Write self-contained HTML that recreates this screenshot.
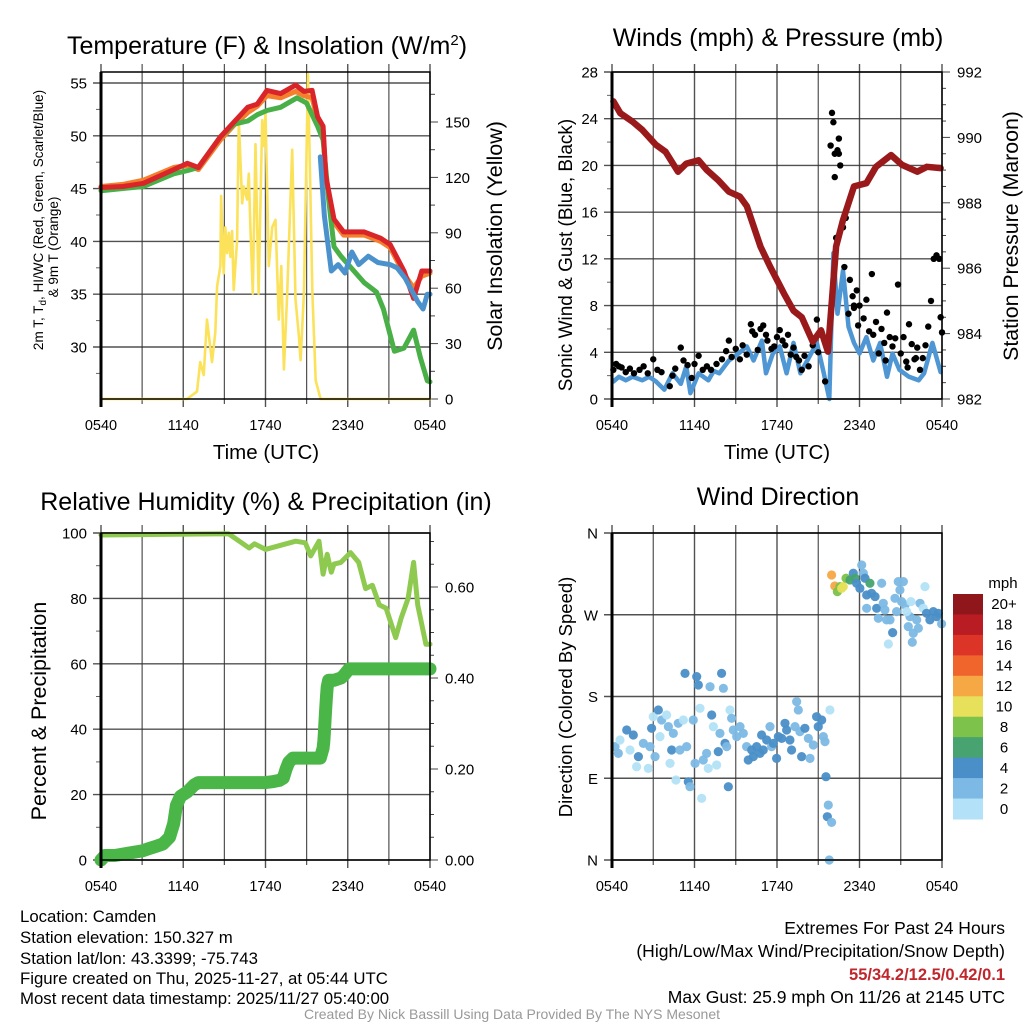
<!DOCTYPE html>
<html><head><meta charset="utf-8"><style>
html,body{margin:0;padding:0;background:#fff;}
svg{display:block;font-family:"Liberation Sans",Arial,sans-serif;}
</style></head><body>
<svg id="fig" width="1024" height="1024" viewBox="0 0 1024 1024">
<rect x="0" y="0" width="1024" height="1024" fill="#fff"/>
<g id="p1"></g>
<g id="p2"></g>
<g id="p3"></g>
<g id="p4"></g>
<text x="267" y="54" font-size="25" text-anchor="middle">Temperature (F) &amp; Insolation (W/m<tspan dy="-9" font-size="15">2</tspan><tspan dy="9">)</tspan></text>
<text x="778" y="46" font-size="25" text-anchor="middle">Winds (mph) &amp; Pressure (mb)</text>
<text x="266" y="510" font-size="25" text-anchor="middle">Relative Humidity (%) &amp; Precipitation (in)</text>
<text x="778" y="505" font-size="25" text-anchor="middle">Wind Direction</text>
<text transform="translate(43,220) rotate(-90)" font-size="13.5" text-anchor="middle">2m T, T<tspan dy="3" font-size="10">d</tspan><tspan dy="-3">, HI/WC (Red, Green, Scarlet/Blue)</tspan></text>
<text transform="translate(58,247) rotate(-90)" font-size="13.5" text-anchor="middle">&amp; 9m T (Orange)</text>
<text transform="translate(502,236) rotate(-90)" font-size="21.5" text-anchor="middle">Solar Insolation (Yellow)</text>
<text transform="translate(572,255) rotate(-90)" font-size="19" text-anchor="middle">Sonic Wind &amp; Gust (Blue, Black)</text>
<text transform="translate(1018,236) rotate(-90)" font-size="21.3" text-anchor="middle">Station Pressure (Maroon)</text>
<text transform="translate(46,711) rotate(-90)" font-size="21.5" text-anchor="middle">Percent &amp; Precipitation</text>
<text transform="translate(572,697) rotate(-90)" font-size="18.5" text-anchor="middle">Direction (Colored By Speed)</text>
<text x="266" y="459" font-size="20.5" text-anchor="middle">Time (UTC)</text>
<text x="777" y="459" font-size="20.5" text-anchor="middle">Time (UTC)</text>
<g id="cbar"></g>
<g font-size="16.8">
<text x="20" y="922">Location: Camden</text>
<text x="20" y="943">Station elevation: 150.327 m</text>
<text x="20" y="964">Station lat/lon: 43.3399; -75.743</text>
<text x="20" y="984">Figure created on Thu, 2025-11-27, at 05:44 UTC</text>
<text x="20" y="1004">Most recent data timestamp: 2025/11/27 05:40:00</text>
</g>
<g font-size="17.5" text-anchor="end">
<text x="1005" y="934">Extremes For Past 24 Hours</text>
<text x="1005" y="957">(High/Low/Max Wind/Precipitation/Snow Depth)</text>
<text x="1005" y="980" fill="#c0272d" font-weight="bold" font-size="16.5">55/34.2/12.5/0.42/0.1</text>
<text x="1005" y="1003">Max Gust: 25.9 mph On 11/26 at 2145 UTC</text>
</g>
<text x="512" y="1019" font-size="14" fill="#999" text-anchor="middle">Created By Nick Bassill Using Data Provided By The NYS Mesonet</text>
</svg>
<script>
// ---------- data ----------
const xTickLabels = ["0540","1140","1740","2340","0540"];
const tempTicks = [30,35,40,45,50,55];
const solarTicks = [0,30,60,90,120,150];
const windTicks = [0,4,8,12,16,20,24,28];
const presTicks = [982,984,986,988,990,992];
const rhTicks = [0,20,40,60,80,100];
const precipTicks = [0.00,0.20,0.40,0.60];
const dirTicks = [0,90,180,270,360];
const dirLabels = ["N","E","S","W","N"];
const speedBins = ["0","2","4","6","8","10","12","14","16","18","20+"];
const speedColors = ["#b3e1f7","#7cb9e4","#4a8fc7","#47a36f","#7cc24b","#e6e05a","#f6a845","#f0652b","#dc3427","#ba1c24","#8f161b"];

const redT = [0,1.6,3.1,5.3,6.3,7.1,8.7,9.7,10.7,11.4,12.1,13.1,14.2,14.8,15.4,15.8,16.2,16.4,17,17.7,19.2,20.4,21.1,22.1,22.8,23.4,24];
const redV = [45.1,45.2,45.5,46.8,47.4,47,49.9,51.3,52.7,53,54.3,54,54.8,54.2,54.3,51.8,50.9,46.2,42.1,40.9,40.9,40.3,39.7,37.2,34.6,37.2,37.2];
const orangeV = [45.2,45.4,45.8,47,47.2,46.8,49.6,51,52.2,52.8,53.8,53.6,54.2,53.8,53.6,51.5,50.5,46,41.8,40.6,40.6,40,39.4,36.9,35.6,36.7,37];
const greenT = [0,3.1,5.3,6.3,7.1,8.7,9.7,10.7,11.4,12.1,13.1,14.3,15,15.8,16.2,16.6,17,17.5,19.2,20.1,20.6,21.4,22.1,22.8,23.3,23.8,24];
const greenV = [44.8,45.2,46.4,46.7,47,49.9,51.1,51.4,52,52.4,52.7,53.6,53.1,50.9,49.6,44,39.5,38.6,36.1,35.2,33.6,29.6,29.9,31.6,29,26.8,26.7];
const blueT = [16,16.3,16.8,17.3,17.8,18.3,18.8,19.5,20.2,21.1,21.6,22.2,23.1,23.5,23.8,24];
const blueV = [48,42.4,37.2,37.8,37,39,37.8,38.6,38,37.8,37.5,36.5,34.3,33.6,35,35];
const solarT = [0,6.27,7.0,7.24,7.49,7.73,8.1,8.34,8.47,8.71,8.76,8.95,9.07,9.2,9.32,9.44,9.56,9.68,9.93,10.05,10.3,10.41,10.66,10.78,10.9,11.07,11.27,11.5,11.76,11.88,12.0,12.24,12.49,12.73,12.97,13.15,13.34,13.58,13.95,14.19,14.44,14.56,14.8,15.1,15.42,15.66,16.02,24];
const solarV = [0,0,4,20,13,43,20,36,61,72,110,68,93,79,90,77,91,59,86,151,106,115,108,122,93,57,138,57,151,137,155,72,93,97,43,72,16,57,135,54,34,21,57,176,57,10,0,0];

const presT = [0.1,0.6,1.5,2.2,3.2,3.9,4.8,5.4,6.3,6.9,7.7,8.5,9.3,9.8,10.8,11.5,12.5,13.2,13.8,14.6,15.2,15.7,16.3,16.8,17.6,18.5,19.2,20.3,21.1,22.2,22.9,23.9];
const presV = [991.1,990.74,990.48,990.23,989.77,989.56,988.95,989.2,989.3,989.0,988.7,988.34,988.19,987.9,986.66,986.05,985.23,984.7,984.5,983.75,984.1,983.45,986.66,987.47,988.5,988.6,989.1,989.46,989.16,988.95,989.1,989.06];
const windT = [0.1,0.5,1.0,1.5,2.2,2.7,3.2,3.8,4.4,5.0,5.4,5.7,6.3,7.0,7.4,7.8,8.5,9.2,9.8,10.3,10.9,11.2,11.7,12.2,12.7,13.2,13.7,14.2,14.9,15.4,15.8,16.1,16.4,16.8,17.2,17.6,18.0,18.5,19.0,19.5,20.0,20.4,20.9,21.6,22.3,22.7,23.3,23.9];
const windV = [1.5,1.9,1.6,1.9,1.6,1.9,1.5,0.8,2.2,1.3,2.8,0.5,2.2,1.6,2.4,2.2,3.3,3.9,4.5,3.3,5.0,2.2,3.9,4.5,2.2,4.8,2.2,3.3,4.8,2.2,0,12.5,7.3,11,6.2,4.8,3.9,5.3,3.3,4.8,1.9,3.9,2.5,1.9,1.6,2.2,4.8,2.3];
const gustT = [0.1,0.3,0.5,0.7,1,1.3,1.6,2,2.3,2.6,3,3.3,3.6,4.2,4.4,4.6,5,5.2,5.5,5.8,6.0,6.3,6.6,6.9,7.2,7.6,8.0,8.3,8.5,8.7,9.0,9.3,9.5,9.8,10.1,10.2,10.4,10.6,10.8,11.0,11.2,11.3,11.6,11.8,12.0,12.2,12.4,12.6,12.8,13.0,13.2,13.4,13.6,13.8,14.0,14.3,14.6,14.9,15.0,15.2,15.5,15.9,16.0,16.1,16.2,16.2,16.4,16.5,16.5,16.3,16.6,16.8,16.9,17.0,17.2,17.3,17.5,17.6,17.8,17.9,18.0,18.3,18.5,18.7,18.9,19.0,19.2,19.4,19.6,19.8,20.0,20.2,20.4,20.6,20.8,21.0,21.2,21.4,21.6,21.8,22.0,22.2,22.4,22.6,22.8,23.0,23.2,23.4,23.6,23.8,23.9,24,17.6,19.9,21.5,22.1];
const gustV = [2.5,3,2.8,2.7,2.3,2.6,2.2,2.5,2.8,2.2,3.4,2.5,2.3,1.1,2.0,2.6,4.4,3.3,2.9,1.8,3.0,3.7,2.5,2.8,2.5,3.0,3.4,4.1,5.0,3.6,4.3,3.4,4.6,3.8,6.4,5.8,5.5,4.2,6.0,6.3,5.5,5.0,4.3,4.5,5.3,5.9,5.0,4.6,5.5,3.8,4.4,3.6,3.3,2.5,3.7,2.8,4.6,6.8,4.0,5.5,1.5,21.7,24.5,23.7,21.0,19.0,21.3,22.3,21.0,13.8,20.0,14.7,11.3,15.5,7.3,10.2,8.8,8.0,9.3,6.3,8.0,6.9,8.5,5.8,10.7,5.5,6.6,3.9,6.0,4.8,7.4,5.3,4.5,5.2,9.8,3.9,5.3,3.2,6.4,4.7,3.4,4.4,2.5,3.5,4.6,6.2,8.4,12.0,12.3,12.0,7.0,5.7,7.8,3.3,2.7,3.5];

const rhT = [0,9.3,10.8,11.2,12.0,14.2,14.9,15.3,15.9,16.2,16.5,16.8,17,17.5,18.2,18.8,19.3,19.8,20.3,20.8,21.5,21.9,22.4,22.8,23.1,23.7,24];
const rhV = [99.4,99.8,95.4,96.7,95,97.5,97,93,97.5,87.4,93.5,88,90.5,91,94,91,83,84,78,77,68,74,80,91,78,66,66];
const precipT = [0,0.3,1,2,3,3.5,4,4.5,5,5.3,5.5,5.8,6.3,6.8,7.1,8,9,10,11,12,12.5,13,13.3,13.5,13.7,14,15,16,16.2,16.25,16.3,16.35,16.4,16.45,16.5,16.6,17,17.5,17.7,18.1,19,20,21,22,23,24];
const precipV = [0.0,0.01,0.01,0.015,0.02,0.025,0.03,0.035,0.05,0.08,0.12,0.14,0.15,0.165,0.17,0.17,0.17,0.17,0.17,0.17,0.172,0.175,0.18,0.2,0.215,0.224,0.224,0.224,0.246,0.26,0.28,0.31,0.336,0.36,0.38,0.395,0.395,0.4,0.405,0.42,0.42,0.42,0.42,0.42,0.42,0.42];

const dirT = [0.22,0.46,0.58,1.07,1.31,1.55,1.79,1.92,2.28,2.64,2.76,2.88,3.0,3.13,3.37,3.49,3.61,3.97,4.1,4.22,4.34,4.46,4.65,4.82,4.94,5.19,5.31,5.43,5.55,5.67,5.91,6.04,6.16,6.28,6.4,6.52,6.64,6.88,7.0,7.13,7.25,7.37,7.61,7.73,7.85,7.97,8.1,8.22,8.34,8.46,8.58,8.7,8.82,9.07,9.31,9.55,9.79,9.91,10.16,10.28,10.52,10.76,10.88,11.0,11.25,11.49,11.61,11.73,11.97,12.1,12.34,12.58,12.7,12.94,13.06,13.31,13.43,13.55,13.67,13.79,14.03,14.28,14.4,14.64,14.88,15.0,15.25,15.37,15.49,15.85,15.56,15.73,15.66,15.97,15.8,
 15.97,16.2,16.39,16.58,16.7,16.82,17.02,17.31,17.55,17.67,17.79,18.03,18.16,18.28,18.4,18.76,18.52,18.88,19.13,18.52,19.25,19.61,19.73,19.85,19.37,19.97,20.22,20.41,20.1,20.58,20.7,20.82,20.94,21.19,21.06,21.31,21.55,21.67,21.74,21.91,21.84,22.16,22.28,22.4,22.64,22.76,22.88,23.12,23.37,23.61,23.73,23.97,21.43];
const dirV = [124.8,117.4,132.1,143.1,121.1,137.6,102.7,113.8,128.4,100.9,124.8,145,157.8,113.8,165.2,135.8,154.1,159.6,146.8,106.4,121.1,139.4,88.1,150.5,121.1,154.1,205.5,124.8,86.2,80.7,154.1,106.4,201.9,192.7,167,67.9,110.1,117.4,100.9,190.8,159.6,146.8,104.6,119.3,139.4,205.5,189,128.4,124.8,80.7,165.2,156,143.1,135.8,146.8,139.4,124.8,110.1,121.1,113.8,124.8,117.4,137.6,121.1,132.1,146.8,124.8,128.4,111.9,135.8,133.9,150.5,143.1,132.1,121.1,146.8,174.3,165.2,141.3,113.8,145,133.9,111.9,126.6,157.8,146.8,154.1,135.8,130.3,165.2,91.7,60.5,47.7,41.4,0,
 313.8,301.7,295.5,301,299.1,301,310.2,308.3,315.7,310.2,304.7,299.1,324.8,315.7,310.2,304.7,291.8,293.6,290,277.1,277.1,304.7,282.6,275.3,266.1,264.3,264.3,250.3,237.8,288.1,273.4,306.5,297.3,306.5,284.5,280.8,256.9,267.9,284.5,249.6,239.7,264.3,255.1,282.6,277.1,301,271.6,264.3,273.4,267.9,271.6,259.9,273.4];
const dirS = [3,3,1,5,1,5,1,5,3,1,3,5,1,3,5,1,3,1,3,1,5,3,1,3,3,1,5,3,5,3,3,3,5,5,1,1,3,3,1,3,5,1,1,5,3,5,3,5,3,5,1,3,3,3,3,3,3,5,5,5,5,5,5,5,5,3,3,5,5,5,5,5,5,5,5,3,3,3,3,5,5,3,3,3,5,5,5,3,3,1,5,3,5,3,3,
 13,13,9,9,11,11,9,7,5,7,5,5,3,3,5,7,5,5,5,3,5,3,3,3,3,3,3,5,1,3,3,3,3,3,3,3,3,3,1,3,3,3,3,3,1,1,5,5,5,5,5,3,1];

// ---------- helpers ----------
const NS = "http://www.w3.org/2000/svg";
function mk(parent, tag, attrs){ const e=document.createElementNS(NS,tag); for(const k in attrs) e.setAttribute(k,attrs[k]); parent.appendChild(e); return e; }
function linScale(d0,d1,r0,r1){ return v => r0 + (v-d0)*(r1-r0)/(d1-d0); }
function frame(g, x0,x1,y0,y1, xs){
  for(let h=0;h<=24;h+=3){
    const x=xs(h);
    const l=mk(g,'line',{x1:x,x2:x,y1:y0-8,y2:y1+ (h%6===0?8:5),stroke:'#333','stroke-width':h%6===0?1.4:1.2,'stroke-opacity':0.85});
    
    
  }
  xTickLabels.forEach((s,i)=>{
    const t=mk(g,'text',{x:xs(i*6),y:y1+31,'font-size':14.5,'text-anchor':'middle'}); t.textContent=s;
    
    
  });
}
function hgrid(g,x0,x1,y,label,lx){
  const l=mk(g,'line',{x1:x0-8,x2:x1,y1:y,y2:y,stroke:'#333','stroke-width':1.4,'stroke-opacity':0.85});
  
  
  if(label!==null){
    const t=mk(g,'text',{x:lx,y:y+5.5,'font-size':15,'text-anchor':'end'}); t.textContent=label;
    
    
  }
}
function rtick(g,x1,y,len,label){
  mk(g,'line',{x1:x1,x2:x1+len,y1:y,y2:y,stroke:'#444','stroke-width':1});
  if(label!==null){
    const t=mk(g,'text',{x:x1+15,y:y+5.5,'font-size':15}); t.textContent=label;
    
    
  }
}
function ltick(g,x0,y){ mk(g,'line',{x1:x0-5,x2:x0,y1:y,y2:y,stroke:'#666','stroke-width':1}); }
function border(g,x0,x1,y0,y1){
  const r=mk(g,'rect',{x:x0,y:y0,width:x1-x0,height:y1-y0,fill:'none',stroke:'#000','stroke-width':1.5});
  
  
  mk(g,'line',{x1:x0,x2:x0,y1:y0,y2:y1+8,stroke:'#000','stroke-width':3});
}
function path(g,xs,ys,T,V,color,w,name){
  let d=''; T.forEach((t,i)=>{ d+=(i?'L':'M')+xs(t).toFixed(1)+','+ys(V[i]).toFixed(1); });
  const p=mk(g,'path',{d:d,fill:'none',stroke:color,'stroke-width':w,'stroke-linejoin':'round','stroke-linecap':'round'});
  
  
  return p;
}
function dots(g,xs,ys,T,V,color,r,name){
  T.forEach((t,i)=>{
    const c=mk(g,'circle',{cx:xs(t),cy:ys(V[i]),r:r,fill:color});
    
    
  });
}

// ---------- panel 1 ----------
(function(){
  const g=document.getElementById('p1');
  const x0=101,x1=430,y0=72,y1=399;
  const xs=linScale(0,24,x0,x1), ys=linScale(55,30,83,347), ss=linScale(0,150,399,122);
  frame(g,x0,x1,y0,y1,xs);
  tempTicks.forEach(v=>hgrid(g,x0,x1,ys(v),String(v),87));
  for(let v=27.5;v<=55;v+=5) ltick(g,x0,ys(v));
  solarTicks.forEach(v=>rtick(g,x1,ss(v),8,String(v)));
  for(let v=15;v<=165;v+=30) rtick(g,x1,ss(v),5,null);
  path(g,xs,ss,solarT,solarV,'#fbe25a',2.6,'solar-insolation-line');
  path(g,xs,ys,redT,orangeV,'#f47f2c',5,'9m-temperature-line');
  path(g,xs,ys,greenT,greenV,'#49b048',5,'dewpoint-line');
  path(g,xs,ys,redT,redV,'#d9242a',5,'2m-temperature-line');
  path(g,xs,ys,blueT,blueV,'#4b92cd',5,'wind-chill-line');
  border(g,x0,x1,y0,y1);
})();

// ---------- panel 2 ----------
(function(){
  const g=document.getElementById('p2');
  const x0=612,x1=942,y0=72,y1=399;
  const xs=linScale(0,24,x0,x1), ws=linScale(0,28,399,72), ps=linScale(982,992,399,72);
  frame(g,x0,x1,y0,y1,xs);
  windTicks.forEach(v=>hgrid(g,x0,x1,ws(v),String(v),598));
  for(let v=2;v<28;v+=4) ltick(g,x0,ws(v));
  presTicks.forEach(v=>rtick(g,x1,ps(v),8,String(v)));
  for(let v=982.5;v<992;v+=0.5) if(v%2!==0) rtick(g,x1,ps(v),4,null);
  path(g,xs,ws,windT,windV,'#4f97d4',4.5,'sonic-wind-line');
  dots(g,xs,ws,gustT,gustV,'#000',3.2,'gust-point');
  path(g,xs,ps,presT,presV,'#9a1a1c',6.5,'pressure-line');
  border(g,x0,x1,y0,y1);
})();

// ---------- panel 3 ----------
(function(){
  const g=document.getElementById('p3');
  const x0=101,x1=430,y0=533,y1=860;
  const xs=linScale(0,24,x0,x1), rs=linScale(0,100,860,533), qs=linScale(0,0.6,860,587);
  frame(g,x0,x1,y0,y1,xs);
  rhTicks.forEach(v=>hgrid(g,x0,x1,rs(v),String(v),87));
  for(let v=10;v<100;v+=20) ltick(g,x0,rs(v));
  precipTicks.forEach(v=>rtick(g,x1,qs(v),8,v.toFixed(2)));
  for(let v=0.05;v<0.72;v+=0.05){ if(Math.abs(v*5-Math.round(v*5))>0.01) rtick(g,x1,qs(v),4,null); }
  path(g,xs,rs,rhT,rhV,'#8fca50',5,'relative-humidity-line');
  path(g,xs,qs,precipT,precipV,'#4ab648',13,'precipitation-line');
  border(g,x0,x1,y0,y1);
})();

// ---------- panel 4 ----------
(function(){
  const g=document.getElementById('p4');
  const x0=612,x1=942,y0=533,y1=860;
  const xs=linScale(0,24,x0,x1), ds=linScale(0,360,860,533);
  frame(g,x0,x1,y0,y1,xs);
  dirTicks.forEach((v,i)=>hgrid(g,x0,x1,ds(v),dirLabels[i],598));
  function col(s){ return speedColors[Math.min(10,Math.floor(s/2))]; }
  dirT.forEach((t,i)=>{
    const c=mk(g,'circle',{cx:xs(t),cy:ds(dirV[i]),r:4.6,fill:col(dirS[i]),'fill-opacity':0.95});
    
    
  });
  border(g,x0,x1,y0,y1);
})();

// ---------- colorbar ----------
(function(){
  const g=document.getElementById('cbar');
  const top=594,h=225/11;
  const t0=mk(g,'text',{x:1003,y:588,'font-size':15,'text-anchor':'middle'}); t0.textContent='mph';
  
  
  for(let i=0;i<11;i++){
    const idx=10-i, y=top+i*h;
    const r=mk(g,'rect',{x:953,y:y,width:30,height:h+0.5,fill:speedColors[idx]});
    
    
    const t=mk(g,'text',{x:1004,y:y+h/2+5,'font-size':15,'text-anchor':'middle'}); t.textContent=speedBins[idx];
    
    
  }
})();
</script>
</body></html>
